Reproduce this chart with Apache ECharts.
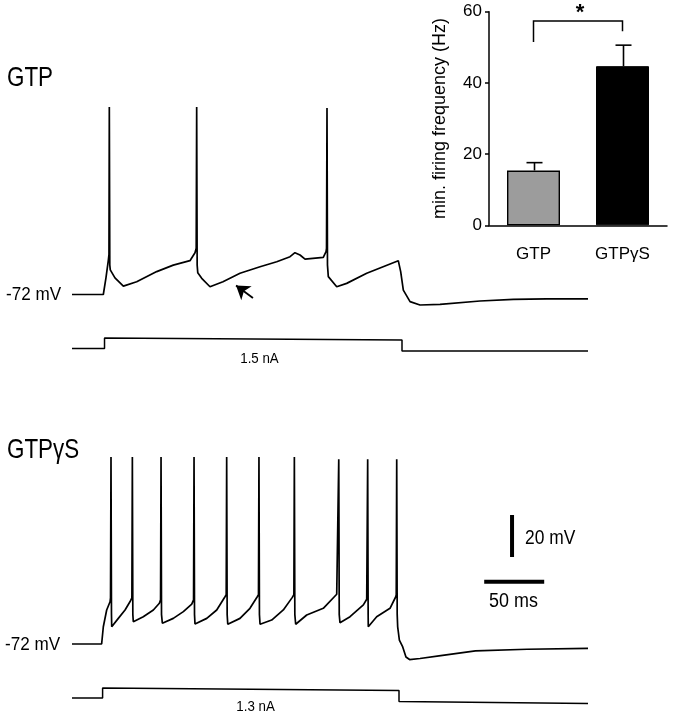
<!DOCTYPE html>
<html><head><meta charset="utf-8">
<script src="https://cdn.jsdelivr.net/npm/echarts@6/dist/echarts.min.js"></script>
<style>html,body{margin:0;padding:0;background:#fff}#c{width:674px;height:720px}</style>
</head><body><div id="c"></div>
<script>
// Membrane potential, GTP (time ms, mV)
const gtpTrace = [[0,-72],[26.1,-72],[28.3,-64.1],[30.3,-55.6],[30.8,-53],[31.1,17.3],[31.5,-58],[31.9,-60.3],[33.1,-59.5],[35.8,-64.1],[42.8,-68.0],[53.9,-65.9],[70.6,-61.1],[84.4,-58.0],[98.3,-55.9],[102.5,-52.1],[103.5,-50],[103.9,17.3],[104.3,-58],[104.8,-61.6],[108.1,-64.3],[115,-68.3],[125.8,-65.9],[140,-61.9],[156.7,-58.8],[170.6,-56.4],[181.7,-54.0],[185.8,-52.1],[190,-53.2],[194.2,-55.2],[209.4,-54.3],[211.7,-51.6],[212.1,-50],[212.5,16.8],[212.9,-58],[213.6,-63.5],[220.6,-68.3],[228.9,-66.7],[245.6,-61.9],[271.9,-55.9],[273.9,-61.1],[276.1,-69.9],[281.7,-75.4],[290,-77.0],[306.7,-76.7],[340,-75.1],[367.8,-74.3],[395.6,-74.1],[430,-74.1]];
// Injected current, GTP (ms, nA)
const gtpCurrent = [[0,0],[27.1,0],[27.1,1.5],[275,1.21],[275,-0.36],[430,-0.36]];
// Membrane potential, GTPγS (ms, mV)
const gtpgsTrace = [[0,-72],[24.7,-72],[26.1,-63.8],[28.9,-55.8],[31.7,-51.9],[32.1,-50],[32.5,17],[32.9,-58],[33.1,-63.8],[38.6,-59.8],[44.2,-55.8],[48.3,-51.9],[49.9,-50],[50.3,17],[50.7,-58],[51.1,-61.4],[59.4,-59.0],[67.8,-55.8],[72.8,-52.6],[73.8,-51],[74.2,17],[74.6,-58],[75.3,-62.1],[84.4,-59.8],[92.8,-56.6],[99.8,-53.0],[101.3,-51],[101.7,17],[102.1,-58],[102.5,-62.5],[112.3,-59.8],[120.6,-55.8],[127.5,-49.5],[128.5,-48.5],[128.9,17],[129.3,-58],[129.8,-62.6],[140,-59.8],[148.3,-55.0],[154.4,-49.5],[155.4,-48.5],[155.8,17],[156.2,-58],[156.7,-62.6],[166.4,-60.6],[176.1,-55.8],[183.6,-49.8],[184.9,-48.5],[185.3,17],[185.7,-58],[186.4,-62.6],[195.6,-58.2],[209.4,-55.0],[220.6,-48.3],[221.9,-47.5],[222.3,16],[222.7,-58],[223.3,-61.9],[231.7,-59.0],[242.8,-53.4],[245.6,-50.7],[246,-50],[246.4,16],[246.8,-58],[246.9,-63.8],[253.9,-59.0],[265,-55.0],[269.8,-49.5],[270.2,-48.5],[270.6,16],[271.0,-58],[271.4,-63.8],[272.8,-70.1],[275.6,-73.4],[278.3,-78.2],[281.3,-79.4],[290,-78.9],[307.3,-77.5],[336.2,-75.3],[379.4,-74.5],[430,-74.1]];
// Injected current, GTPγS (ms, nA)
const gtpgsCurrent = [[0,0],[25.5,0],[25.5,1.3],[272.5,0.99],[272.5,-0.45],[430,-0.71]];
// Inset bar chart
const barCategories = ['GTP','GTP\u03B3S'];
const barMeans = [15.4, 44.7];
const barErrors = [2.2, 5.9];
const yTicks = [0, 20, 40, 60];
const sigBracket = [51.5, 57.4, 54.5, 59.6];
// Scale bars (in GTPγS trace units)
const scaleBarMV = [-30.6, -10.6];
const scaleBarMVTime = 366.7;
const scaleBarMS = [343.5, 393.5];
const scaleBarMSLevel = -42.3;
// Arrow annotation (GTP trace units)
const arrowFrom = [150.8, -73.7];
const arrowTo = [136.7, -67.7];

const FF = 'Liberation Sans, Arial, Helvetica, sans-serif';
const chart = echarts.init(document.getElementById('c'), null, {renderer:'canvas'});
const lineBase = {type:'line', symbol:'none', showSymbol:false, silent:true, animation:false,
  lineStyle:{color:'#000', width:1.7}};
const hidX = (g)=>({type:'value', gridIndex:g, min:0, max:430, show:false});
const hidY = (g,mn,mx)=>({type:'value', gridIndex:g, min:mn, max:mx, show:false});

function txt(text, x, y, size, sx, align){
  return {type:'text', x:x, y:y, scaleX:sx, silent:true,
    style:{text:text, fontSize:size, fontFamily:FF, fill:'#000', align:align||'left', verticalAlign:'middle'}};
}

const option = {
  backgroundColor:'#fff',
  animation:false,
  grid:[
    {left:72, top:101.3, width:516, height:220.5},
    {left:72, top:331, width:516, height:24.5},
    {left:72, top:450.8, width:516, height:220.5},
    {left:72, top:678.75, width:516, height:26.95},
    {left:489, top:11.7, width:178, height:213.6}
  ],
  xAxis:[hidX(0), hidX(1), hidX(2), hidX(3),
    {type:'category', gridIndex:4, data:barCategories,
     axisLine:{lineStyle:{color:'#000', width:1.5}}, axisTick:{show:false},
     axisLabel:{color:'#000', fontSize:17, fontFamily:FF, margin:21}}],
  yAxis:[hidY(0,-85,20), hidY(1,-1,2.5), hidY(2,-85,20), hidY(3,-1,2.5),
    {type:'value', gridIndex:4, min:yTicks[0], max:yTicks[yTicks.length-1], interval:yTicks[1]-yTicks[0],
     name:'min. firing frequency (Hz)', nameLocation:'middle', nameGap:40,
     nameTextStyle:{color:'#000', fontSize:18, fontFamily:FF},
     axisLine:{show:true, lineStyle:{color:'#000', width:1.5}},
     axisTick:{show:true, length:4, lineStyle:{color:'#000', width:1.5}},
     splitLine:{show:false},
     axisLabel:{color:'#000', fontSize:17, fontFamily:FF, margin:7}}],
  series:[
    Object.assign({}, lineBase, {xAxisIndex:0, yAxisIndex:0, data:gtpTrace,
      markLine:{silent:true, animation:false, symbol:['none','arrow'], symbolSize:13,
        label:{show:false}, lineStyle:{color:'#000', width:1.8, type:'solid'},
        data:[[{coord:arrowFrom},{coord:arrowTo}]]}}),
    Object.assign({}, lineBase, {xAxisIndex:1, yAxisIndex:1, data:gtpCurrent, lineStyle:{color:'#000', width:1.5}}),
    Object.assign({}, lineBase, {xAxisIndex:2, yAxisIndex:2, data:gtpgsTrace}),
    Object.assign({}, lineBase, {xAxisIndex:3, yAxisIndex:3, data:gtpgsCurrent, lineStyle:{color:'#000', width:1.5}}),
    Object.assign({}, lineBase, {xAxisIndex:2, yAxisIndex:2, lineStyle:{color:'#000', width:4, cap:'butt'},
      data:[[scaleBarMVTime, scaleBarMV[0]],[scaleBarMVTime, scaleBarMV[1]]]}),
    Object.assign({}, lineBase, {xAxisIndex:2, yAxisIndex:2, lineStyle:{color:'#000', width:4, cap:'butt'},
      data:[[scaleBarMS[0], scaleBarMSLevel],[scaleBarMS[1], scaleBarMSLevel]]}),
    {type:'bar', xAxisIndex:4, yAxisIndex:4, barWidth:53, silent:true, animation:false,
      data:[
        {value:barMeans[0], itemStyle:{color:'#9c9c9c', borderColor:'#000', borderWidth:1.4}},
        {value:barMeans[1], itemStyle:{color:'#000', borderColor:'#000', borderWidth:1}}
      ]},
    {type:'custom', xAxisIndex:4, yAxisIndex:4, silent:true, animation:false, z:5,
      data:barMeans.map((m,i)=>[i, m, barErrors[i]]),
      encode:{x:0, y:1},
      renderItem:function(params, api){
        const i = api.value(0), m = api.value(1), e = api.value(2);
        const b = api.coord([i, m]), t = api.coord([i, m+e]);
        return {type:'group', children:[
          {type:'line', shape:{x1:b[0]+1, y1:b[1], x2:t[0]+1, y2:t[1]}, style:{stroke:'#000', lineWidth:1.6}},
          {type:'line', shape:{x1:t[0]-7, y1:t[1], x2:t[0]+9, y2:t[1]}, style:{stroke:'#000', lineWidth:1.6}}
        ]};
      }},
    {type:'custom', xAxisIndex:4, yAxisIndex:4, silent:true, animation:false, z:5,
      data:[[0, sigBracket[0], sigBracket[1], sigBracket[2], sigBracket[3]]],
      encode:{x:0, y:1},
      renderItem:function(params, api){
        const a = api.coord([0, api.value(1)]);
        const top = api.coord([0, api.value(2)]);
        const c = api.coord([1, api.value(3)]);
        const s = api.coord([0, api.value(4)]);
        return {type:'group', children:[
          {type:'polyline', shape:{points:[[a[0],a[1]],[a[0],top[1]],[c[0],top[1]],[c[0],c[1]]]},
            style:{stroke:'#000', lineWidth:1.5, fill:null}},
          {type:'text', x:(a[0]+c[0])/2+2, y:s[1],
            style:{text:'*', fontSize:22, fontWeight:'bold', fontFamily:FF, fill:'#000', align:'center', verticalAlign:'middle'}}
        ]};
      }}
  ],
  graphic:[
    txt('GTP', 7, 78, 28, 0.8),
    txt('GTP\u03B3S', 7, 450, 28, 0.8),
    txt('-72 mV', 6, 295, 19, 0.9),
    txt('-72 mV', 5, 645, 19, 0.9),
    txt('1.5 nA', 259.5, 359, 14, 0.95, 'center'),
    txt('1.3 nA', 255.6, 707, 14, 0.95, 'center'),
    txt('20 mV', 525, 538.5, 20, 0.87),
    txt('50 ms', 489, 602, 19.5, 0.92)
  ]
};
chart.setOption(option);
</script></body></html>
